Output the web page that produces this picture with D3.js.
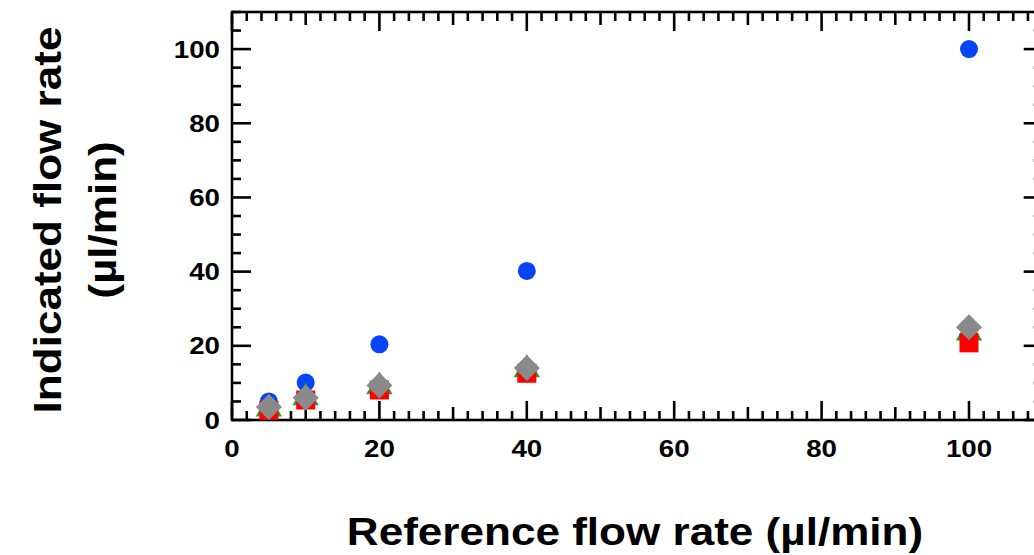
<!DOCTYPE html>
<html><head><meta charset="utf-8">
<script src="https://cdn.jsdelivr.net/npm/d3@7"></script>
<style>body{margin:0;background:#fff}svg{display:block}</style>
</head><body><svg id="c" width="1034" height="555"></svg>
<script>
const refFlow = [5, 10, 20, 40, 100];
const seriesBlue = [5, 10.1, 20.4, 40.2, 100];
const seriesGreen = [3.0, 6.0, 9.0, 13.6, 23.5];
const seriesRed = [2.6, 5.4, 8.1, 12.6, 20.8];
const seriesGray = [3.5, 6.0, 9.3, 14.0, 25.0];
const xTickLabels = [0, 20, 40, 60, 80, 100];
const yTickLabels = [0, 20, 40, 60, 80, 100];
const xTitle = "Reference flow rate (\u00b5l/min)";
const yTitle = ["Indicated flow rate", "(\u00b5l/min)"];

const svg = d3.select("#c");
const L = 232, R = 1042.7, T = 12, B = 420;
const x = d3.scaleLinear().domain([0, 110]).range([L, R]);
const y = d3.scaleLinear().domain([0, 110]).range([B, T]);
const font = "'Liberation Sans', Arial, sans-serif";
const lw = 2.6;
const sx = 1.13;

function tickLen(v, majorStep, midStep){
  if (Math.abs(v % majorStep) < 1e-6) return 19;
  if (midStep && Math.abs(v % midStep) < 1e-6) return 13;
  return 9;
}
const xt = d3.range(0, 110.001, 2);
const yt = d3.range(0, 110.001, 5);

const g = svg.append("g");
g.append("rect").attr("x", L).attr("y", T).attr("width", R - L).attr("height", B - T)
 .attr("fill", "none").attr("stroke", "#000").attr("stroke-width", lw);
xt.forEach(v => {
  const len = tickLen(v, 20, 10);
  g.append("line").attr("x1", x(v)).attr("x2", x(v)).attr("y1", B).attr("y2", B - len)
   .attr("stroke", "#000").attr("stroke-width", lw);
  g.append("line").attr("x1", x(v)).attr("x2", x(v)).attr("y1", T).attr("y2", T + len)
   .attr("stroke", "#000").attr("stroke-width", lw);
});
yt.forEach(v => {
  const len = tickLen(v, 20, null);
  g.append("line").attr("y1", y(v)).attr("y2", y(v)).attr("x1", L).attr("x2", L + len)
   .attr("stroke", "#000").attr("stroke-width", lw);
  g.append("line").attr("y1", y(v)).attr("y2", y(v)).attr("x1", R).attr("x2", R - len)
   .attr("stroke", "#000").attr("stroke-width", lw);
});
g.selectAll(".xl").data(xTickLabels).enter().append("text")
 .attr("transform", d => `translate(${x(d)},457) scale(${sx},1)`).attr("text-anchor", "middle")
 .attr("font-family", font).attr("font-weight", "bold").attr("font-size", 24.5).text(d => d);
g.selectAll(".yl").data(yTickLabels).enter().append("text")
 .attr("transform", d => `translate(220,${y(d) + 8.5}) scale(${sx},1)`).attr("text-anchor", "end")
 .attr("font-family", font).attr("font-weight", "bold").attr("font-size", 24.5).text(d => d);

svg.append("text").attr("transform", `translate(635,545) scale(${sx},1)`).attr("text-anchor", "middle")
 .attr("font-family", font).attr("font-weight", "bold").attr("font-size", 39).text(xTitle);
const yt1 = svg.append("text").attr("transform", `translate(61,220) rotate(-90) scale(${sx},1)`)
 .attr("text-anchor", "middle").attr("font-family", font).attr("font-weight", "bold").attr("font-size", 39);
yt1.append("tspan").attr("x", 0).attr("y", 0).text(yTitle[0]);
yt1.append("tspan").attr("x", 0).attr("y", 55).text(yTitle[1]);

const pts = (vals) => refFlow.map((r, i) => ({ r, v: vals[i] }));
const m = svg.append("g");
m.selectAll(".blue").data(pts(seriesBlue)).enter().append("circle")
 .attr("cx", d => x(d.r)).attr("cy", d => y(d.v)).attr("r", 9).attr("fill", "#0644f5");
m.selectAll(".green").data(pts(seriesGreen)).enter().append("path")
 .attr("transform", d => `translate(${x(d.r)},${y(d.v)})`)
 .attr("d", d3.symbol(d3.symbolTriangle, 300)).attr("fill", "#2f9a2f");
m.selectAll(".red").data(pts(seriesRed)).enter().append("rect")
 .attr("x", d => x(d.r) - 9.5).attr("y", d => y(d.v) - 9.5).attr("width", 19).attr("height", 19).attr("fill", "#ff0000");
m.selectAll(".gray").data(pts(seriesGray)).enter().append("path")
 .attr("transform", d => `translate(${x(d.r)},${y(d.v)})`)
 .attr("d", "M0,-13L13,0L0,13L-13,0Z").attr("fill", "#8a8a8a");
</script></body></html>
